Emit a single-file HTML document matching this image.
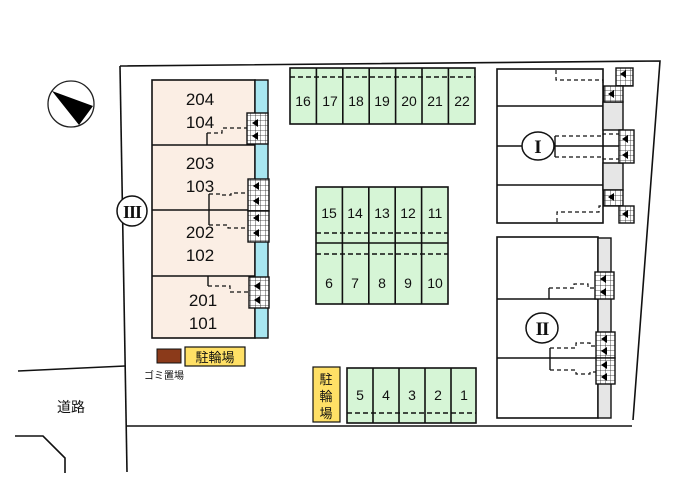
<!DOCTYPE html>
<html><head><meta charset="utf-8"><style>
html,body{margin:0;padding:0;background:#fff;width:700px;height:494px;overflow:hidden}
svg{display:block}
text{font-family:"Liberation Sans","Noto Sans CJK JP",sans-serif;fill:#111}
.rn{font-family:"Liberation Serif",serif;font-weight:bold}
</style></head><body>
<svg width="700" height="494" viewBox="0 0 700 494" xmlns="http://www.w3.org/2000/svg">
<defs>
<pattern id="g" width="5" height="5" patternUnits="userSpaceOnUse">
<rect width="5" height="5" fill="#fff"/><path d="M0 0H5M0 0V5" stroke="#222" stroke-width="0.8"/>
</pattern>
</defs>
<g stroke="#111" fill="none" stroke-width="1.6">
<path d="M120 66 L660 61 L633 420"/>
<path d="M120 66 L127 472"/>
<path d="M127 426 L632 426"/>
<path d="M18 371 L125 366"/>
<path d="M15 436 L43 436 L65 458 L65 473"/>
</g>
<circle cx="71" cy="104" r="23" fill="#fff" stroke="#222" stroke-width="1.3"/>
<polygon points="52,91 93,106 79,125" fill="#000"/>
<rect x="152" y="80" width="103" height="258" fill="#fbeee4" stroke="#111" stroke-width="1.6"/>
<rect x="255" y="80" width="13" height="258" fill="#a8e6f0" stroke="#111" stroke-width="1.4"/>
<g stroke="#111" stroke-width="1.4">
<line x1="152" y1="145" x2="255" y2="145"/><line x1="152" y1="210" x2="255" y2="210"/><line x1="152" y1="276" x2="255" y2="276"/>
<line x1="207" y1="145" x2="207" y2="133"/><line x1="209" y1="194" x2="209" y2="225"/><line x1="208" y1="276" x2="208" y2="286"/>
</g>
<g stroke="#111" stroke-width="1.2" stroke-dasharray="4,3" fill="none">
<path d="M207 133 H222 V128 H247"/>
<path d="M209 194 H222 V195 H231 V193 H247"/>
<path d="M209 225 H228 V228 H247"/>
<path d="M208 286 H230 V292 H248"/>
</g>
<g stroke="#111" stroke-width="1.4" fill="url(#g)">
<rect x="247" y="113" width="21" height="31"/>
<rect x="248" y="179" width="21" height="32"/>
<rect x="248" y="211" width="21" height="31"/>
<rect x="249" y="277" width="20" height="31"/>
</g>
<g fill="#000">
<polygon points="252,123 258,119 258,127"/><polygon points="252,136 258,132 258,140"/>
<polygon points="253,186 259,182 259,190"/><polygon points="253,201 259,197 259,205"/>
<polygon points="253,218 259,214 259,222"/><polygon points="253,233 259,229 259,237"/>
<polygon points="254,286 260,282 260,290"/><polygon points="254,300 260,296 260,304"/>
</g>
<g font-size="17" text-anchor="middle">
<text x="200" y="105">204</text><text x="200" y="128">104</text>
<text x="200" y="169">203</text><text x="200" y="192">103</text>
<text x="200" y="238">202</text><text x="200" y="261">102</text>
<text x="203" y="306">201</text><text x="203" y="329">101</text>
</g>
<circle cx="132" cy="211" r="15" fill="#fff" stroke="#111" stroke-width="1.5"/>
<text x="132" y="218" font-size="18" text-anchor="middle" class="rn" letter-spacing="-1">III</text>
<rect x="157" y="349" width="24" height="14" fill="#8b3a1a" stroke="#111"/>
<rect x="185" y="347" width="60" height="19" fill="#ffe066" stroke="#111" stroke-width="1.2"/>
<text x="215" y="362" font-size="13" text-anchor="middle">駐輪場</text>
<text x="164" y="379" font-size="10" text-anchor="middle">ゴミ置場</text>
<text x="71" y="412" font-size="14" text-anchor="middle">道路</text>
<rect x="290" y="68" width="185" height="56" fill="#d6f5d6" stroke="#111" stroke-width="1.6"/>
<g stroke="#111" stroke-width="1.6">
<line x1="316.4" y1="68" x2="316.4" y2="124"/><line x1="342.8" y1="68" x2="342.8" y2="124"/><line x1="369.2" y1="68" x2="369.2" y2="124"/><line x1="395.6" y1="68" x2="395.6" y2="124"/><line x1="422" y1="68" x2="422" y2="124"/><line x1="448.4" y1="68" x2="448.4" y2="124"/>
</g>
<line x1="290" y1="77" x2="475" y2="77" stroke="#111" stroke-width="1.5" stroke-dasharray="5,3"/>
<g font-size="14" text-anchor="middle">
<text x="303" y="106">16</text><text x="330" y="106">17</text><text x="356" y="106">18</text><text x="382" y="106">19</text><text x="409" y="106">20</text><text x="435" y="106">21</text><text x="462" y="106">22</text>
</g>
<rect x="316" y="187" width="132" height="117" fill="#d6f5d6" stroke="#111" stroke-width="1.6"/>
<g stroke="#111" stroke-width="1.6">
<line x1="342.4" y1="187" x2="342.4" y2="304"/><line x1="368.8" y1="187" x2="368.8" y2="304"/><line x1="395.2" y1="187" x2="395.2" y2="304"/><line x1="421.6" y1="187" x2="421.6" y2="304"/>
<line x1="316" y1="243" x2="448" y2="243"/>
</g>
<g stroke="#111" stroke-width="1.5" stroke-dasharray="5,3"><line x1="316" y1="233" x2="448" y2="233"/><line x1="316" y1="254" x2="448" y2="254"/></g>
<g font-size="14" text-anchor="middle">
<text x="329" y="218">15</text><text x="355" y="218">14</text><text x="382" y="218">13</text><text x="408" y="218">12</text><text x="435" y="218">11</text>
<text x="329" y="288">6</text><text x="355" y="288">7</text><text x="382" y="288">8</text><text x="408" y="288">9</text><text x="435" y="288">10</text>
</g>
<rect x="347" y="368" width="129" height="55" fill="#d6f5d6" stroke="#111" stroke-width="1.6"/>
<g stroke="#111" stroke-width="1.6">
<line x1="373" y1="368" x2="373" y2="423"/><line x1="399" y1="368" x2="399" y2="423"/><line x1="425" y1="368" x2="425" y2="423"/><line x1="451" y1="368" x2="451" y2="423"/>
</g>
<line x1="347" y1="413" x2="476" y2="413" stroke="#111" stroke-width="1.5" stroke-dasharray="5,3"/>
<g font-size="14" text-anchor="middle">
<text x="360" y="400">5</text><text x="386" y="400">4</text><text x="412" y="400">3</text><text x="438" y="400">2</text><text x="464" y="400">1</text>
</g>
<rect x="313" y="367" width="27" height="55" fill="#ffe066" stroke="#111" stroke-width="1.2"/>
<g font-size="13" text-anchor="middle"><text x="326" y="384">駐</text><text x="326" y="401">輪</text><text x="326" y="418">場</text></g>
<rect x="497" y="69" width="106" height="154" fill="#fff" stroke="#111" stroke-width="1.6"/>
<rect x="603" y="102" width="20" height="28" fill="#e6e6e6" stroke="#111" stroke-width="1.4"/>
<rect x="603" y="163" width="20" height="27" fill="#e6e6e6" stroke="#111" stroke-width="1.4"/>
<g stroke="#111" stroke-width="1.4">
<line x1="497" y1="106" x2="603" y2="106"/><line x1="497" y1="146" x2="619" y2="146"/><line x1="497" y1="185" x2="603" y2="185"/>
<line x1="555" y1="136" x2="555" y2="157"/>
</g>
<g stroke="#111" stroke-width="1.2" stroke-dasharray="4,3" fill="none">
<path d="M556 70 V80 H603 V86"/>
<path d="M555 136 H603 V134 H619"/>
<path d="M555 157 H603 V159 H619"/>
<path d="M557 222 V212 H599 V206 H604"/>
</g>
<g stroke="#111" stroke-width="1.4" fill="url(#g)">
<rect x="616" y="68" width="17" height="18"/><rect x="604" y="86" width="19" height="16"/>
<rect x="619" y="130" width="15" height="33"/>
<rect x="604" y="190" width="19" height="16"/><rect x="619" y="206" width="15" height="17"/>
</g>
<g fill="#000">
<polygon points="620,74 626,70 626,78"/><polygon points="608,94 614,90 614,98"/>
<polygon points="622,139 628,135 628,143"/><polygon points="622,155 628,151 628,159"/>
<polygon points="608,197 614,193 614,201"/><polygon points="622,214 628,210 628,218"/>
</g>
<ellipse cx="538" cy="146" rx="16" ry="14" fill="#fff" stroke="#111" stroke-width="1.5"/>
<text x="538" y="153" font-size="19" text-anchor="middle" class="rn">I</text>
<rect x="497" y="237" width="101" height="181" fill="#fff" stroke="#111" stroke-width="1.6"/>
<rect x="598" y="238" width="13" height="180" fill="#e6e6e6" stroke="#111" stroke-width="1.4"/>
<g stroke="#111" stroke-width="1.4">
<line x1="497" y1="299" x2="598" y2="299"/><line x1="497" y1="358" x2="598" y2="358"/>
<line x1="549" y1="288" x2="549" y2="299"/><line x1="550" y1="348" x2="550" y2="370"/>
</g>
<g stroke="#111" stroke-width="1.2" stroke-dasharray="4,3" fill="none">
<path d="M549 288 H574 V284 H588 V288 H595"/>
<path d="M550 348 H576 V343 H590 V346 H596"/>
<path d="M550 370 H576 V374 H590 V372 H596"/>
</g>
<g stroke="#111" stroke-width="1.4" fill="url(#g)">
<rect x="595" y="272" width="19" height="27"/>
<rect x="596" y="332" width="19" height="26"/><rect x="596" y="358" width="19" height="26"/>
</g>
<g fill="#000">
<polygon points="600,279 606,275 606,283"/><polygon points="600,292 606,288 606,296"/>
<polygon points="601,339 607,335 607,343"/><polygon points="601,351 607,347 607,355"/>
<polygon points="601,365 607,361 607,369"/><polygon points="601,377 607,373 607,381"/>
</g>
<ellipse cx="542" cy="328" rx="16" ry="15" fill="#fff" stroke="#111" stroke-width="1.5"/>
<text x="542" y="335" font-size="19" text-anchor="middle" class="rn" letter-spacing="-1">II</text>
</svg>
</body></html>
